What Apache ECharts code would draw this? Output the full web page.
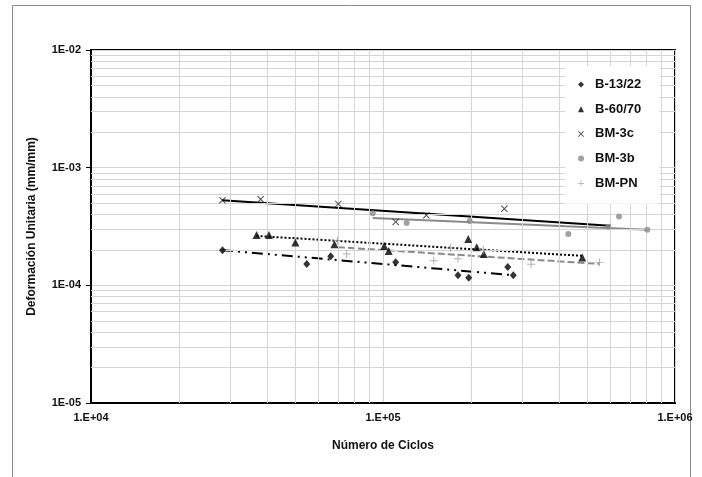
<!DOCTYPE html>
<html>
<head>
<meta charset="utf-8">
<script src="https://cdn.jsdelivr.net/npm/echarts@6/dist/echarts.min.js"></script>
<style>
  html, body { margin: 0; padding: 0; background: #fff; }
  #chart { width: 702px; height: 477px; }
</style>
</head>
<body>
<div id="chart"></div>
<script>
// Fatigue test results: unit strain vs. number of load cycles (log-log)
const seriesNames = ['B-13/22', 'B-60/70', 'BM-3c', 'BM-3b', 'BM-PN'];

const b1322X = [28200, 54800, 66200, 110500, 180600, 196600, 267400, 279400];
const b1322Y = [1.99e-4, 1.52e-4, 1.77e-4, 1.57e-4, 1.22e-4, 1.16e-4, 1.43e-4, 1.22e-4];

const b6070X = [36900, 40700, 50100, 68200, 101000, 104600, 195900, 209400, 221300, 481400];
const b6070Y = [2.68e-4, 2.68e-4, 2.31e-4, 2.23e-4, 2.16e-4, 1.96e-4, 2.48e-4, 2.11e-4, 1.85e-4, 1.72e-4];

const bm3cX = [28200, 38100, 70300, 110500, 140700, 260300];
const bm3cY = [5.28e-4, 5.39e-4, 4.92e-4, 3.46e-4, 3.94e-4, 4.48e-4];

const bm3bX = [92200, 120500, 198100, 431100, 591000, 643100, 803700];
const bm3bY = [4.10e-4, 3.39e-4, 3.52e-4, 2.73e-4, 3.15e-4, 3.84e-4, 2.97e-4];

const bmpnX = [69800, 75100, 149200, 170500, 180600, 220600, 321300, 550600];
const bmpnY = [2.40e-4, 1.85e-4, 1.62e-4, 2.08e-4, 1.68e-4, 2.00e-4, 1.51e-4, 1.56e-4];

// Power-law trend lines (start and end points)
const trendB1322X = [28100, 279000];
const trendB1322Y = [1.99e-4, 1.22e-4];
const trendB6070X = [36900, 481000];
const trendB6070Y = [2.63e-4, 1.78e-4];
const trendBM3cX = [28100, 599000];
const trendBM3cY = [5.28e-4, 3.21e-4];
const trendBM3bX = [92200, 803700];
const trendBM3bY = [3.74e-4, 2.97e-4];
const trendBMPNX = [70100, 550600];
const trendBMPNY = [2.11e-4, 1.52e-4];

// Axis ranges
const xMin = 1e4, xMax = 1e6;
const yMin = 1e-5, yMax = 1e-2;

function pairs(xs, ys) { return xs.map((x, i) => [x, ys[i]]); }

// Minor log gridlines at 2..9 x 10^k, spanning the whole plot
function minorValues(min, max) {
  const out = [];
  for (let e = Math.round(Math.log10(min)); e < Math.round(Math.log10(max)); e++) {
    for (let m = 2; m <= 9; m++) out.push(m * Math.pow(10, e));
  }
  return out;
}
const gridLines = minorValues(xMin, xMax).map(v => [{ coord: [v, yMin] }, { coord: [v, yMax] }])
  .concat(minorValues(yMin, yMax).map(v => [{ coord: [xMin, v] }, { coord: [xMax, v] }]));

const SYM_X = 'path://M1,0L5,4L9,0L10,1L6,5L10,9L9,10L5,6L1,10L0,9L4,5L0,1Z';
const SYM_PLUS = 'path://M4.4,0H5.6V4.4H10V5.6H5.6V10H4.4V5.6H0V4.4H4.4Z';

const BLACK = '#000';
const GRAY = '#8a8a8a';
const GRID = '#d4d4d4';
const FONT = '"Liberation Sans", Arial, sans-serif';

function expLabel(v, prefix) {
  const e = Math.round(Math.log10(v));
  const s = (e < 0 ? '-' : '+') + String(Math.abs(e)).padStart(2, '0');
  return prefix + s;
}

function trend(xs, ys, color, type) {
  return {
    type: 'line', data: pairs(xs, ys), showSymbol: false, silent: true,
    lineStyle: { color: color, width: 2, type: type }, z: 3, animation: false
  };
}

const legendIcons = {
  'B-13/22': 'diamond', 'B-60/70': 'triangle', 'BM-3c': SYM_X, 'BM-3b': 'circle', 'BM-PN': SYM_PLUS
};

const chart = echarts.init(document.getElementById('chart'), null, { renderer: 'canvas' });
chart.setOption({
  animation: false,
  backgroundColor: '#fff',
  graphic: [{
    type: 'rect', silent: true, z: 0,
    shape: { x: 12.5, y: 5.5, width: 678, height: 490 },
    style: { fill: 'none', stroke: '#8c8c8c', lineWidth: 1 }
  }],
  grid: {
    left: 91, top: 50, right: 27, bottom: 74,
    show: true, borderColor: '#000', borderWidth: 2, backgroundColor: 'transparent'
  },
  legend: {
    orient: 'vertical', left: 565, top: 66, z: 20,
    padding: [12, 18, 14, 13],
    backgroundColor: '#fff',
    itemWidth: 6, itemHeight: 6, itemGap: 11.7,
    data: seriesNames.map(n => ({ name: n, icon: legendIcons[n] })),
    textStyle: { fontFamily: FONT, fontWeight: 'bold', fontSize: 13, color: '#111', padding: [0, 0, 0, 6] }
  },
  xAxis: {
    type: 'log', logBase: 10, min: xMin, max: xMax, interval: 1,
    name: 'Número de Ciclos', nameLocation: 'middle', nameGap: 37,
    nameTextStyle: { fontFamily: FONT, fontWeight: 'bold', fontSize: 12, color: '#111' },
    axisLine: { show: true, lineStyle: { color: '#000', width: 2 } },
    axisTick: { show: false },
    axisLabel: { fontFamily: FONT, fontWeight: 'bold', fontSize: 11, color: '#111', margin: 9,
      formatter: v => expLabel(v, '1.E') },
    splitLine: { show: true, lineStyle: { color: GRID, width: 1 } }
  },
  yAxis: {
    type: 'log', logBase: 10, min: yMin, max: yMax, interval: 1,
    name: 'Deformación Unitaria (mm/mm)', nameLocation: 'middle', nameGap: 53,
    nameTextStyle: { fontFamily: FONT, fontWeight: 'bold', fontSize: 12, color: '#111' },
    axisLine: { show: true, lineStyle: { color: '#000', width: 2 } },
    axisTick: { show: true, length: 5, lineStyle: { color: '#000', width: 1 } },
    axisLabel: { fontFamily: FONT, fontWeight: 'bold', fontSize: 11, color: '#111', margin: 10,
      formatter: v => expLabel(v, '1E') },
    splitLine: { show: true, lineStyle: { color: GRID, width: 1 } }
  },
  series: [
    {
      // carrier for the minor log gridlines
      type: 'line', data: [[xMin, yMin]], showSymbol: false, silent: true, z: 1,
      lineStyle: { opacity: 0 },
      markLine: {
        silent: true, symbol: ['none', 'none'], label: { show: false },
        lineStyle: { color: GRID, type: 'solid', width: 1, opacity: 1 }, animation: false,
        emphasis: { disabled: true },
        data: gridLines
      }
    },
    trend(trendBM3cX, trendBM3cY, BLACK, 'solid'),
    trend(trendBM3bX, trendBM3bY, GRAY, 'solid'),
    trend(trendB6070X, trendB6070Y, BLACK, [2, 2]),
    trend(trendBMPNX, trendBMPNY, GRAY, [7, 3]),
    trend(trendB1322X, trendB1322Y, BLACK, [11, 5, 2, 5, 2, 5]),
    {
      name: 'B-13/22', type: 'scatter', data: pairs(b1322X, b1322Y), z: 5,
      symbol: 'diamond', symbolSize: [7, 8], itemStyle: { color: BLACK }
    },
    {
      name: 'B-60/70', type: 'scatter', data: pairs(b6070X, b6070Y), z: 5,
      symbol: 'triangle', symbolSize: [8, 8], itemStyle: { color: BLACK }
    },
    {
      name: 'BM-3c', type: 'scatter', data: pairs(bm3cX, bm3cY), z: 5,
      symbol: SYM_X, symbolSize: 7, itemStyle: { color: '#222' }
    },
    {
      name: 'BM-3b', type: 'scatter', data: pairs(bm3bX, bm3bY), z: 5,
      symbol: 'circle', symbolSize: 6, itemStyle: { color: GRAY }
    },
    {
      name: 'BM-PN', type: 'scatter', data: pairs(bmpnX, bmpnY), z: 5,
      symbol: SYM_PLUS, symbolSize: 8, itemStyle: { color: '#999' }
    }
  ]
});
</script>
</body>
</html>
